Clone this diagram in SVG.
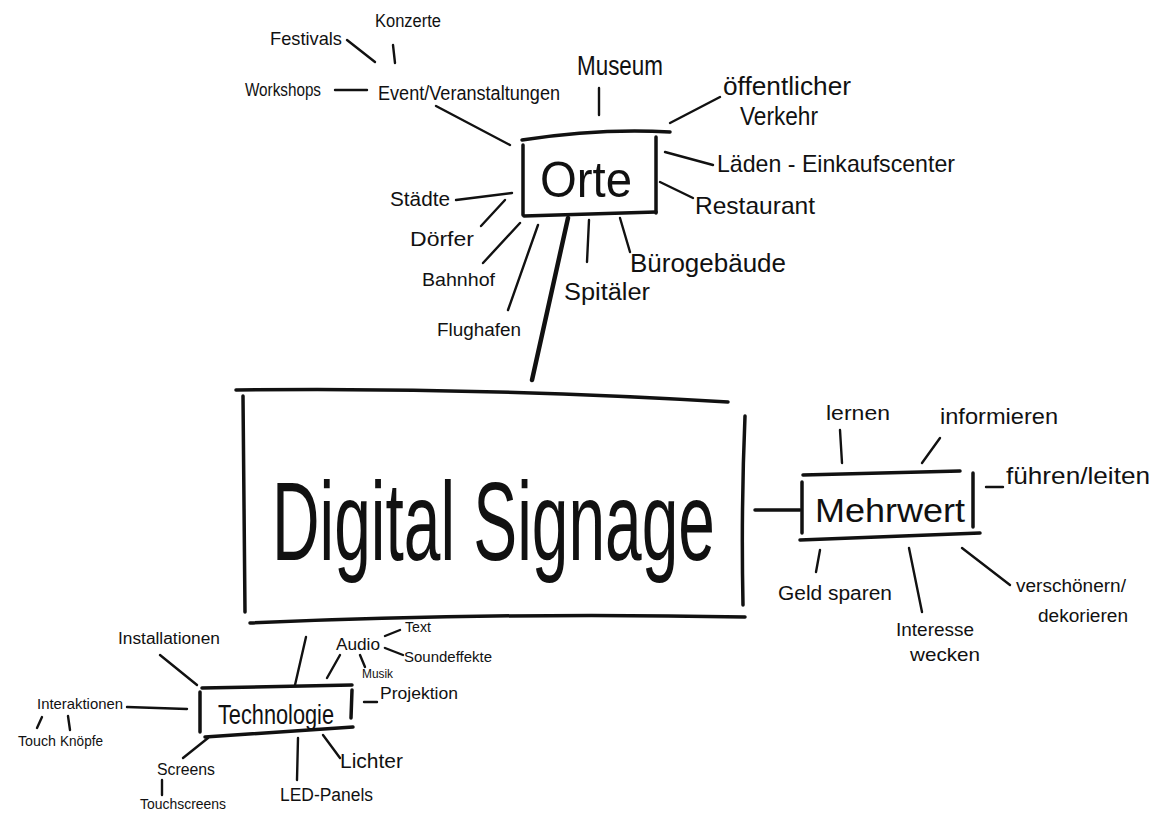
<svg xmlns="http://www.w3.org/2000/svg" width="1169" height="815" viewBox="0 0 1169 815">
<style>
text{font-family:"Liberation Sans","Noto Sans",sans-serif;fill:#111;}
.c{stroke:#111;stroke-width:2.4;stroke-linecap:round;fill:none;}
.b{stroke:#111;stroke-width:3.5;stroke-linecap:round;fill:none;}
.t{stroke:#111;stroke-width:4.5;stroke-linecap:round;fill:none;}
</style>
<rect width="1169" height="815" fill="#fff"/>
<g id="connectors">
<path class="c" d="M347 40 L375 62"/>
<path class="c" d="M393 45 L395 63"/>
<path class="c" d="M335 90 L367 90"/>
<path class="c" d="M436 106 L510 145"/>
<path class="c" d="M599 88 L599 115"/>
<path class="c" d="M670 123 L720 97"/>
<path class="c" d="M665 152 L713 165"/>
<path class="c" d="M660 182 L693 198"/>
<path class="c" d="M620 218 L630 252"/>
<path class="c" d="M589 220 L587 262"/>
<path class="c" d="M456 200 L512 193"/>
<path class="c" d="M481 226 L505 200"/>
<path class="c" d="M483 263 L520 223"/>
<path class="c" d="M508 310 L538 225"/>
<path class="t" d="M568 218 L532 380"/>
<path class="b" d="M755 510 L800 510"/>
<path class="c" d="M840 430 L842 463"/>
<path class="c" d="M922 463 L940 438"/>
<path class="c" d="M986 487 L1003 487"/>
<path class="c" d="M820 550 L816 572"/>
<path class="c" d="M909 548 L922 612"/>
<path class="c" d="M962 548 L1010 585"/>
<path class="c" d="M306 637 L295 685"/>
<path class="c" d="M160 655 L197 685"/>
<path class="c" d="M127 707 L187 709"/>
<path class="c" d="M42 717 L37 728"/>
<path class="c" d="M68 716 L70 730"/>
<path class="c" d="M183 758 L208 738"/>
<path class="c" d="M162 780 L162 795"/>
<path class="c" d="M298 738 L297 780"/>
<path class="c" d="M323 735 L340 758"/>
<path class="c" d="M364 702 L377 702"/>
<path class="c" d="M327 678 L340 655"/>
<path class="c" d="M385 636 L400 630"/>
<path class="c" d="M385 648 L403 655"/>
<path class="c" d="M360 655 L365 667"/>
</g>
<g id="orte">
<path class="b" d="M522 140 Q600 128 670 132"/>
<path class="b" d="M523 145 L523 215"/>
<path class="b" d="M656 137 L656 213"/>
<path class="b" d="M524 216 L656 212"/>
<text x="586" y="197" font-size="50" text-anchor="middle" textLength="92" lengthAdjust="spacingAndGlyphs">Orte</text>
</g>
<g id="event"><text x="378" y="100" font-size="20" textLength="182" lengthAdjust="spacingAndGlyphs">Event/Veranstaltungen</text></g>
<g id="festivals"><text x="270" y="45" font-size="19" textLength="72" lengthAdjust="spacingAndGlyphs">Festivals</text></g>
<g id="konzerte"><text x="375" y="27" font-size="18" textLength="66" lengthAdjust="spacingAndGlyphs">Konzerte</text></g>
<g id="workshops"><text x="245" y="96" font-size="18" textLength="76" lengthAdjust="spacingAndGlyphs">Workshops</text></g>
<g id="museum"><text x="577" y="75" font-size="28" textLength="86" lengthAdjust="spacingAndGlyphs">Museum</text></g>
<g id="verkehr"><text x="723" y="95" font-size="26" textLength="128" lengthAdjust="spacingAndGlyphs">öffentlicher</text><text x="740" y="125" font-size="26" textLength="78" lengthAdjust="spacingAndGlyphs">Verkehr</text></g>
<g id="laeden"><text x="717" y="172" font-size="24" textLength="238" lengthAdjust="spacingAndGlyphs">Läden - Einkaufscenter</text></g>
<g id="restaurant"><text x="695" y="214" font-size="24" textLength="120" lengthAdjust="spacingAndGlyphs">Restaurant</text></g>
<g id="buero"><text x="630" y="272" font-size="26" textLength="156" lengthAdjust="spacingAndGlyphs">Bürogebäude</text></g>
<g id="spitaeler"><text x="564" y="300" font-size="23" textLength="86" lengthAdjust="spacingAndGlyphs">Spitäler</text></g>
<g id="staedte"><text x="390" y="206" font-size="20" textLength="60" lengthAdjust="spacingAndGlyphs">Städte</text></g>
<g id="doerfer"><text x="410" y="246" font-size="20" textLength="64" lengthAdjust="spacingAndGlyphs">Dörfer</text></g>
<g id="bahnhof"><text x="422" y="286" font-size="19" textLength="73" lengthAdjust="spacingAndGlyphs">Bahnhof</text></g>
<g id="flughafen"><text x="437" y="336" font-size="18" textLength="84" lengthAdjust="spacingAndGlyphs">Flughafen</text></g>
<g id="digital-signage">
<path class="b" d="M236 390 Q480 387 728 402"/>
<path class="b" d="M243 396 L245 612"/>
<path class="b" d="M745 416 Q741 510 743 605"/>
<path class="b" d="M250 623 Q500 612 745 617"/>
<text x="272" y="560" font-size="112" textLength="443" lengthAdjust="spacingAndGlyphs">Digital Signage</text>
</g>
<g id="mehrwert">
<path class="b" d="M803 475 L960 471"/>
<path class="b" d="M802 482 L802 533"/>
<path class="b" d="M973 473 L973 527"/>
<path class="b" d="M800 540 L980 533"/>
<text x="815" y="522" font-size="34" textLength="150" lengthAdjust="spacingAndGlyphs">Mehrwert</text>
</g>
<g id="lernen"><text x="826" y="420" font-size="21" textLength="64" lengthAdjust="spacingAndGlyphs">lernen</text></g>
<g id="informieren"><text x="940" y="424" font-size="22" textLength="118" lengthAdjust="spacingAndGlyphs">informieren</text></g>
<g id="fuehren"><text x="1006" y="484" font-size="24" textLength="144" lengthAdjust="spacingAndGlyphs">führen/leiten</text></g>
<g id="geld"><text x="778" y="600" font-size="20" textLength="114" lengthAdjust="spacingAndGlyphs">Geld sparen</text></g>
<g id="interesse"><text x="896" y="636" font-size="19" textLength="78" lengthAdjust="spacingAndGlyphs">Interesse</text><text x="910" y="661" font-size="19" textLength="70" lengthAdjust="spacingAndGlyphs">wecken</text></g>
<g id="verschoenern"><text x="1016" y="592" font-size="18" textLength="110" lengthAdjust="spacingAndGlyphs">verschönern/</text><text x="1038" y="622" font-size="18" textLength="90" lengthAdjust="spacingAndGlyphs">dekorieren</text></g>
<g id="technologie">
<path class="b" d="M202 688 L352 685"/>
<path class="b" d="M200 692 L200 732"/>
<path class="b" d="M352 690 L351 718"/>
<path class="b" d="M205 737 L353 727"/>
<text x="218" y="724" font-size="28" textLength="116" lengthAdjust="spacingAndGlyphs">Technologie</text>
</g>
<g id="installationen"><text x="118" y="644" font-size="16" textLength="102" lengthAdjust="spacingAndGlyphs">Installationen</text></g>
<g id="interaktionen"><text x="37" y="709" font-size="15" textLength="86" lengthAdjust="spacingAndGlyphs">Interaktionen</text></g>
<g id="touch"><text x="18" y="746" font-size="14" textLength="38" lengthAdjust="spacingAndGlyphs">Touch</text></g>
<g id="knoepfe"><text x="60" y="746" font-size="14" textLength="43" lengthAdjust="spacingAndGlyphs">Knöpfe</text></g>
<g id="screens"><text x="157" y="775" font-size="16" textLength="58" lengthAdjust="spacingAndGlyphs">Screens</text></g>
<g id="touchscreens"><text x="140" y="809" font-size="14" textLength="86" lengthAdjust="spacingAndGlyphs">Touchscreens</text></g>
<g id="led"><text x="280" y="801" font-size="18" textLength="93" lengthAdjust="spacingAndGlyphs">LED-Panels</text></g>
<g id="lichter"><text x="340" y="768" font-size="20" textLength="63" lengthAdjust="spacingAndGlyphs">Lichter</text></g>
<g id="projektion"><text x="380" y="699" font-size="17" textLength="78" lengthAdjust="spacingAndGlyphs">Projektion</text></g>
<g id="audio"><text x="336" y="650" font-size="16" textLength="44" lengthAdjust="spacingAndGlyphs">Audio</text></g>
<g id="text"><text x="405" y="632" font-size="14" textLength="26" lengthAdjust="spacingAndGlyphs">Text</text></g>
<g id="soundeffekte"><text x="404" y="662" font-size="15" textLength="88" lengthAdjust="spacingAndGlyphs">Soundeffekte</text></g>
<g id="musik"><text x="362" y="678" font-size="12" textLength="31" lengthAdjust="spacingAndGlyphs">Musik</text></g>
</svg>
